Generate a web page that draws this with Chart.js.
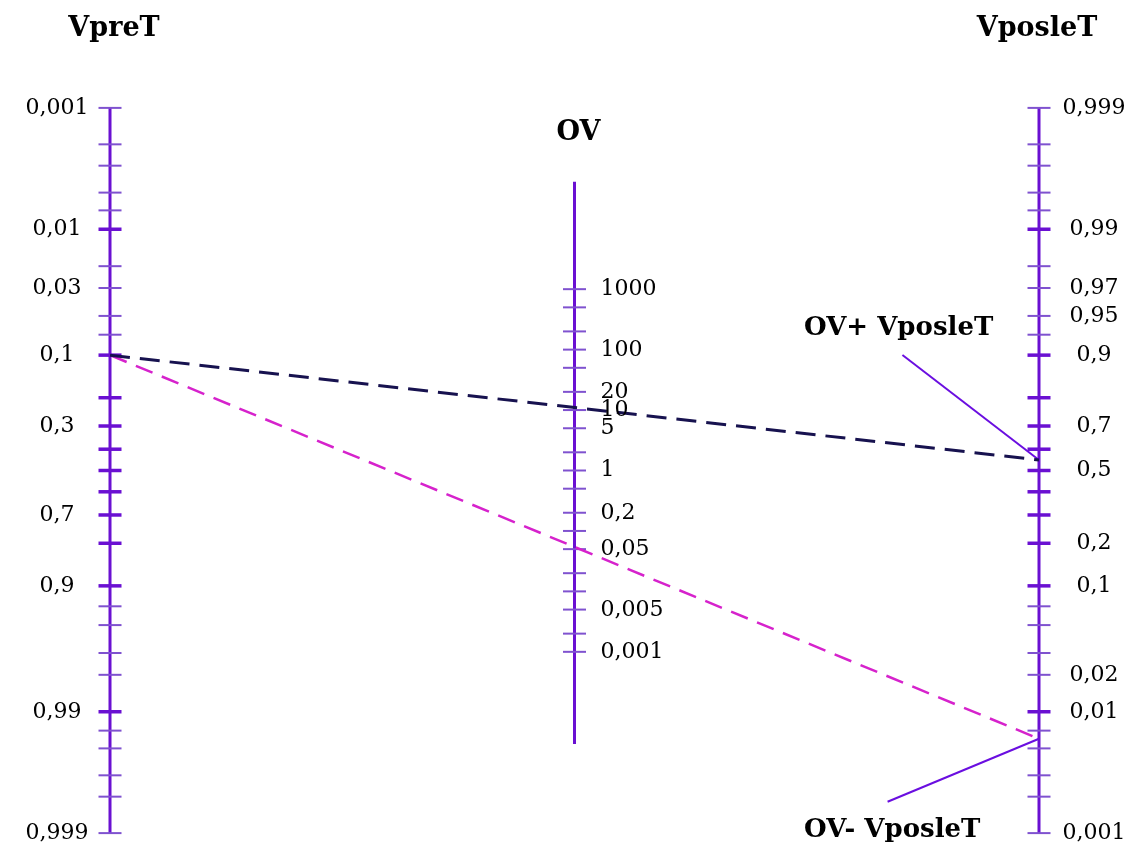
<!DOCTYPE html>
<html>
<head>
<meta charset="utf-8">
<title>Fagan nomogram</title>
<script src="https://cdn.jsdelivr.net/npm/chart.js@4/dist/chart.umd.min.js"></script>
<style>
    html, body { margin: 0; padding: 0; background: #fff; }
    #wrap { width: 1133px; height: 844px; }
</style>
</head>
<body>
<div id="wrap"><canvas id="nomogram" width="1133" height="844"></canvas></div>
<script>
// probability ticks (same set on both outer scales)
const probTicks = [0.001, 0.002, 0.003, 0.005, 0.007, 0.01, 0.02, 0.03, 0.05, 0.07,
    0.1, 0.2, 0.3, 0.4, 0.5, 0.6, 0.7, 0.8, 0.9, 0.93, 0.95, 0.97, 0.98,
    0.99, 0.993, 0.995, 0.997, 0.998, 0.999];
const majorProbTicks = [0.01, 0.1, 0.2, 0.3, 0.4, 0.5, 0.6, 0.7, 0.8, 0.9, 0.99];
const preTestLabels = [0.001, 0.01, 0.03, 0.1, 0.3, 0.7, 0.9, 0.99, 0.999];
const postTestLabels = [0.999, 0.99, 0.97, 0.95, 0.9, 0.7, 0.5, 0.2, 0.1, 0.02, 0.01, 0.001];

// likelihood ratio (OV) scale
const lrTicks = [1000, 500, 200, 100, 50, 20, 10, 5, 2, 1, 0.5, 0.2, 0.1,
    0.05, 0.02, 0.01, 0.005, 0.002, 0.001];
const lrLabels = [1000, 100, 20, 10, 5, 1, 0.2, 0.05, 0.005, 0.001];
const lrAxisEnds = [60000, 0.00003];

// drawn example lines
const preTest = 0.1;
const postTestPositive = 0.55;
const postTestNegative = 0.006;

// nomogram scales: pre on the left (x=0), OV in the middle, post on the right (x=1)
const logit = p => Math.log(p / (1 - p));
const preY = p => logit(p);
const postY = p => -logit(p);
const lrY = lr => -Math.log(lr) / 2;
const fmt = v => String(v).replace('.', ',');

const axisColor = '#6a10d2';
const minorTickColor = '#7f52cf';

const annotations = [
    { text: 'OV+ VposleT', textX: 804, textY: 335, anchor: { x: 0.853, y: -2.2 }, post: postTestPositive },
    { text: 'OV- VposleT', textX: 804, textY: 837, anchor: { x: 0.837, y: 6.31 }, post: postTestNegative }
];

function axisLine(x, y0, y1) {
    return {
        type: 'line', data: [{ x: x, y: y0 }, { x: x, y: y1 }],
        borderColor: axisColor, borderWidth: 3, pointRadius: 0, order: 4
    };
}

function tickSet(x, values, toY, width, color) {
    return {
        type: 'scatter', data: values.map(v => ({ x: x, y: toY(v) })),
        pointStyle: 'line', pointRadius: 11.5, pointBorderWidth: width,
        pointBorderColor: color, borderColor: color, order: 3
    };
}

const minorProb = probTicks.filter(p => !majorProbTicks.includes(p));

const datasets = [
    axisLine(0, preY(probTicks[0]), preY(probTicks[probTicks.length - 1])),
    axisLine(1, postY(probTicks[probTicks.length - 1]), postY(probTicks[0])),
    axisLine(0.5, lrY(lrAxisEnds[0]), lrY(lrAxisEnds[1])),
    tickSet(0, minorProb, preY, 2, minorTickColor),
    tickSet(0, majorProbTicks, preY, 3.5, axisColor),
    tickSet(1, minorProb, postY, 2, minorTickColor),
    tickSet(1, majorProbTicks, postY, 3.5, axisColor),
    tickSet(0.5, lrTicks, lrY, 2, minorTickColor),
    {
        type: 'line', data: [{ x: 0, y: preY(preTest) }, { x: 1, y: postY(postTestPositive) }],
        borderColor: '#17124f', borderWidth: 3, borderDash: [20, 10], pointRadius: 0, order: 0
    },
    {
        type: 'line', data: [{ x: 0, y: preY(preTest) }, { x: 1, y: postY(postTestNegative) }],
        borderColor: '#d622cc', borderWidth: 2.5, borderDash: [18, 10], pointRadius: 0, order: 0
    }
];

annotations.forEach(a => {
    datasets.push({
        type: 'line', data: [a.anchor, { x: 1, y: postY(a.post) }],
        borderColor: '#6a0ee0', borderWidth: 2, pointRadius: 0, order: 1
    });
});

const textPlugin = {
    id: 'nomogramText',
    afterDatasetsDraw(chart) {
        const { ctx, scales: { x, y } } = chart;
        ctx.save();
        ctx.fillStyle = '#000';
        ctx.textBaseline = 'alphabetic';

        // tick labels
        ctx.font = '22px "DejaVu Serif"';
        ctx.textAlign = 'center';
        preTestLabels.forEach(p => ctx.fillText(fmt(p), x.getPixelForValue(0) - 53, y.getPixelForValue(preY(p)) + 6));
        postTestLabels.forEach(p => ctx.fillText(fmt(p), x.getPixelForValue(1) + 55, y.getPixelForValue(postY(p)) + 6));
        ctx.textAlign = 'left';
        lrLabels.forEach(v => ctx.fillText(fmt(v), x.getPixelForValue(0.5) + 26, y.getPixelForValue(lrY(v)) + 6));

        // axis titles
        ctx.font = 'bold 27px "DejaVu Serif"';
        ctx.textAlign = 'center';
        ctx.fillText('VpreT', x.getPixelForValue(0) + 4, 36);
        ctx.fillText('VposleT', x.getPixelForValue(1) - 2, 36);
        ctx.fillText('OV', x.getPixelForValue(0.5) + 4, 140);

        // annotations
        ctx.font = 'bold 26px "DejaVu Serif"';
        ctx.textAlign = 'left';
        annotations.forEach(a => ctx.fillText(a.text, a.textX, a.textY));
        ctx.restore();
    }
};

new Chart(document.getElementById('nomogram').getContext('2d'), {
    type: 'scatter',
    data: { datasets: datasets },
    options: {
        responsive: false,
        animation: false,
        layout: { padding: 0, autoPadding: false },
        plugins: { legend: { display: false }, tooltip: { enabled: false } },
        scales: {
            // left scale at 110px, right scale at 1039px
            x: { type: 'linear', display: false, min: -0.11841, max: 1.10118 },
            // logit 0 at 470.5px, 52.5px per logit unit
            y: { type: 'linear', display: false, reverse: true, min: -8.9619, max: 7.1143 }
        }
    },
    plugins: [textPlugin]
});
</script>
</body>
</html>
